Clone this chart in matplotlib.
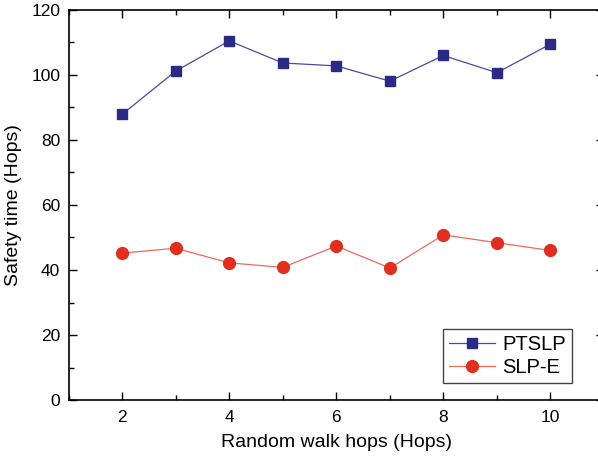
import matplotlib
matplotlib.use("Agg")
import matplotlib.pyplot as plt
from matplotlib.ticker import MultipleLocator

plt.rcParams['font.family'] = ['Liberation Sans', 'DejaVu Sans']

hops = [2, 3, 4, 5, 6, 7, 8, 9, 10]
ptslp = [87.9, 101.2, 110.5, 103.7, 102.8, 98.1, 106.0, 100.7, 109.5]
slpe = [45.2, 46.7, 42.2, 40.8, 47.4, 40.6, 50.8, 48.4, 46.0]

fig = plt.figure(figsize=(5.98, 4.61), dpi=100)
W, H = 598, 461
left, right, bottom, top = 68.6, 604, 461 - 400, 461 - 10
ax = fig.add_axes([left / W, bottom / H, (right - left) / W, (top - bottom) / H])

ax.plot(hops, ptslp, color='#4a4aa0', lw=0.9, marker='s', ms=7.8,
        mfc='#2b2a84', mec='#2b2a84', label='PTSLP')
ax.plot(hops, slpe, color='#ee6a5a', lw=0.9, marker='o', ms=8.5,
        mfc='#e02e1f', mec='#e02e1f', label='SLP-E')

ax.set_xlim(1, 11)
ax.set_ylim(0, 120)
ax.xaxis.set_major_locator(MultipleLocator(2))
ax.xaxis.set_minor_locator(MultipleLocator(1))
ax.yaxis.set_major_locator(MultipleLocator(20))
ax.yaxis.set_minor_locator(MultipleLocator(10))
ax.tick_params(which='both', direction='in', top=True, right=True, width=1.0)
ax.tick_params(which='major', length=6, labelsize=12.5)
ax.tick_params(which='minor', length=3.5)
ax.tick_params(axis='x', pad=7)
ax.tick_params(axis='y', pad=6)
for s in ax.spines.values():
    s.set_linewidth(1.2)

ax.set_xlabel('Random walk hops (Hops)', fontsize=14, labelpad=7)
ax.set_ylabel('Safety time (Hops)', fontsize=14, labelpad=7)

leg = ax.legend(loc='lower right', bbox_to_anchor=(0.940, 0.044), fontsize=14.5,
                frameon=True, fancybox=False, edgecolor='#444444',
                framealpha=1, borderpad=0.3, handlelength=2.3,
                handletextpad=0.35, labelspacing=0.2, borderaxespad=0)
leg.get_frame().set_linewidth(1.0)

fig.savefig('out.png', dpi=100)
